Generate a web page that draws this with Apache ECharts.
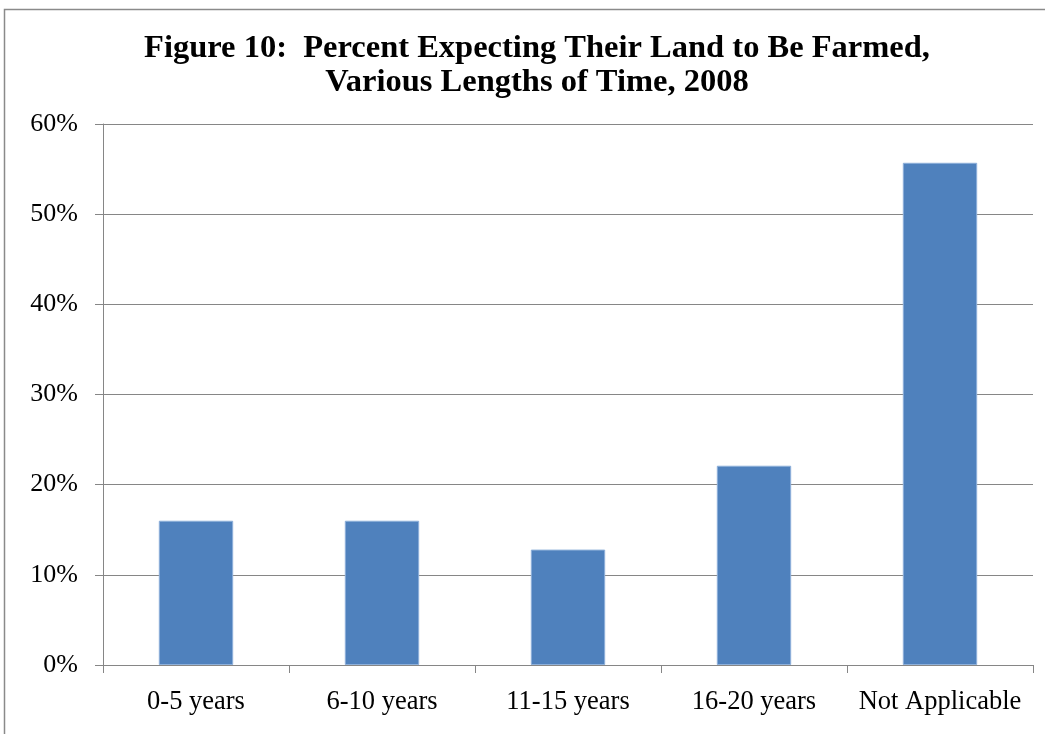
<!DOCTYPE html>
<html>
<head>
<meta charset="utf-8">
<script src="https://cdn.jsdelivr.net/npm/echarts@6/dist/echarts.min.js"></script>
<style>
html,body{margin:0;padding:0;background:#fff;}
#chart{width:1045px;height:734px;}
</style>
</head>
<body>
<div id="chart"></div>
<script>
const titleText = 'Figure 10:  Percent Expecting Their Land to Be Farmed,\nVarious Lengths of Time, 2008';
const categories = ['0-5 years', '6-10 years', '11-15 years', '16-20 years', 'Not Applicable'];
const values = [16.0, 16.0, 12.8, 22.1, 55.7];
const yTicks = [0, 10, 20, 30, 40, 50, 60];

const chart = echarts.init(document.getElementById('chart'), null, {renderer: 'canvas'});
const font = '"Liberation Serif", "Times New Roman", serif';
chart.setOption({
  animation: false,
  backgroundColor: '#ffffff',
  graphic: [{
    type: 'rect',
    shape: {x: 4.5, y: 9.5, width: 1100, height: 800},
    style: {fill: 'none', stroke: '#8a8a8a', lineWidth: 1.5},
    silent: true
  }, {
    type: 'text',
    x: 537,
    y: 32,
    silent: true,
    style: {
      text: titleText,
      align: 'center',
      verticalAlign: 'top',
      fontFamily: font,
      fontWeight: 'bold',
      fontSize: 32.5,
      lineHeight: 34,
      fill: '#000'
    }
  }],
  grid: {left: 103, right: 12, top: 124, bottom: 69, containLabel: false},
  xAxis: {
    type: 'category',
    data: categories,
    axisLine: {lineStyle: {color: '#868686', width: 1}},
    axisTick: {show: true, length: 8, alignWithLabel: false, lineStyle: {color: '#868686'}},
    axisLabel: {fontFamily: font, fontSize: 26.5, color: '#000', margin: 24, interval: 0}
  },
  yAxis: {
    type: 'value',
    min: yTicks[0],
    max: yTicks[yTicks.length - 1],
    interval: 10,
    axisLine: {show: true, lineStyle: {color: '#868686', width: 1}},
    axisTick: {show: true, length: 8, lineStyle: {color: '#868686'}},
    splitLine: {lineStyle: {color: '#868686', width: 1}},
    axisLabel: {fontFamily: font, fontSize: 26, color: '#000', margin: 25, formatter: v => v + '%'}
  },
  series: [{
    type: 'bar',
    data: values,
    barWidth: '40%',
    itemStyle: {color: '#4F81BD', borderColor: '#8eb0da', borderWidth: 1}
  }]
});
</script>
</body>
</html>
